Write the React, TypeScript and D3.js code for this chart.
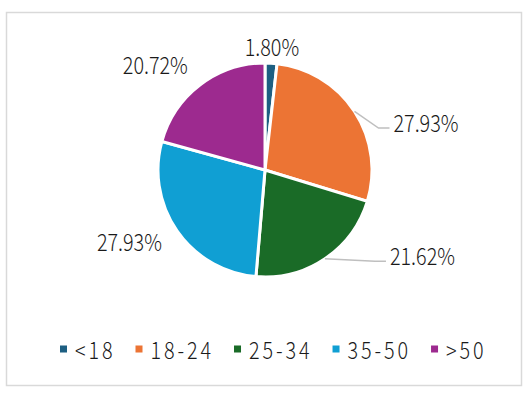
import React, { useEffect, useRef } from "react";
import * as d3 from "d3";

const categories = ["<18", "18-24", "25-34", "35-50", ">50"];
const shares = [1.8, 27.93, 21.62, 27.93, 20.72];
const labels = ["1.80%", "27.93%", "21.62%", "27.93%", "20.72%"];
const colors = ["#1d5f82", "#ec7434", "#1a6b27", "#109fd3", "#9d2a8f"];

// where Excel put each data label (polar, around the pie centre) and whether it has a leader line
const labelPlacement = [
  { r: 124, deg: 3.2, leader: false },
  { r: 168, deg: 73.4, leader: true },
  { r: 179, deg: 118.4, leader: true },
  { r: 153, deg: 242.4, leader: false },
  { r: 153, deg: 314.2, leader: false },
];

const FONT = "'Noto Sans CJK SC', 'Noto Sans', sans-serif";
const FONT_SIZE = 23;
const SQUEEZE = 0.86; // the original font is a narrow one

const App: React.FC = () => {
  const ref = useRef<SVGSVGElement>(null);

  useEffect(() => {
    if (!ref.current) return;
    const svg = d3.select(ref.current);
    svg.selectAll("*").remove();

    const width = 530;
    const height = 394;
    svg.attr("width", width).attr("height", height);

    svg.append("rect")
      .attr("x", 6.5).attr("y", 12.5)
      .attr("width", 515).attr("height", 373)
      .attr("fill", "#fff")
      .attr("stroke", "#d9d9d9")
      .attr("stroke-width", 1.5);

    const cx = 265;
    const cy = 170;
    const radius = 107;

    const pie = d3.pie<number>().sort(null).value((d) => d);
    const arcs = pie(shares);
    const arc = d3.arc<d3.PieArcDatum<number>>().innerRadius(0).outerRadius(radius);

    const g = svg.append("g").attr("transform", `translate(${cx},${cy})`);

    g.selectAll("path.slice")
      .data(arcs)
      .enter().append("path")
      .attr("class", "slice")
      .attr("d", arc)
      .attr("fill", (d, i) => colors[i])
      .attr("stroke", "#fff")
      .attr("stroke-width", 3)
      .attr("stroke-linejoin", "miter");

    const polar = (r: number, a: number): [number, number] => [r * Math.sin(a), -r * Math.cos(a)];

    const leaders = g.append("g");

    arcs.forEach((d, i) => {
      const p = labelPlacement[i];
      const [lx, ly] = polar(p.r, (p.deg * Math.PI) / 180);
      const t = g.append("g")
        .attr("transform", `translate(${lx},${ly}) scale(${SQUEEZE},1)`)
        .append("text")
        .attr("text-anchor", "middle")
        .attr("dominant-baseline", "central")
        .attr("font-family", FONT)
        .attr("font-size", FONT_SIZE)
        .attr("font-weight", 300)
        .attr("fill", "#1a1a1a")
        .text(labels[i]);

      if (p.leader) {
        const w = (t.node() as SVGTextElement).getComputedTextLength() * SQUEEZE;
        const mid = (d.startAngle + d.endAngle) / 2;
        const start = polar(radius, mid);
        const end: [number, number] = [lx - w / 2 - 4, ly + 6];
        const elbow: [number, number] = [end[0] - 11, end[1]];
        leaders.append("path")
          .attr("d", d3.line()([start, elbow, end]))
          .attr("fill", "none")
          .attr("stroke", "#bfbfbf")
          .attr("stroke-width", 1.5);
      }
    });

    // legend: laid out left to right, each item sized by its text
    const legend = svg.append("g").attr("transform", `translate(0,349)`);
    let x = 60;
    categories.forEach((c, i) => {
      const item = legend.append("g").attr("transform", `translate(${x},0)`);
      item.append("rect")
        .attr("x", 0).attr("y", -3.5)
        .attr("width", 7).attr("height", 7)
        .attr("fill", colors[i]);
      const t = item.append("g")
        .attr("transform", `translate(15,0) scale(${SQUEEZE},1)`)
        .append("text")
        .attr("dominant-baseline", "central")
        .attr("font-family", FONT)
        .attr("font-size", FONT_SIZE)
        .attr("font-weight", 300)
        .attr("letter-spacing", 3.4)
        .attr("fill", "#1a1a1a")
        .text(c);
      x += 15 + (t.node() as SVGTextElement).getComputedTextLength() * SQUEEZE + 20;
    });
  }, []);

  return <svg ref={ref} style={{ position: "absolute", left: 0, top: 0 }}></svg>;
};

export default App;
